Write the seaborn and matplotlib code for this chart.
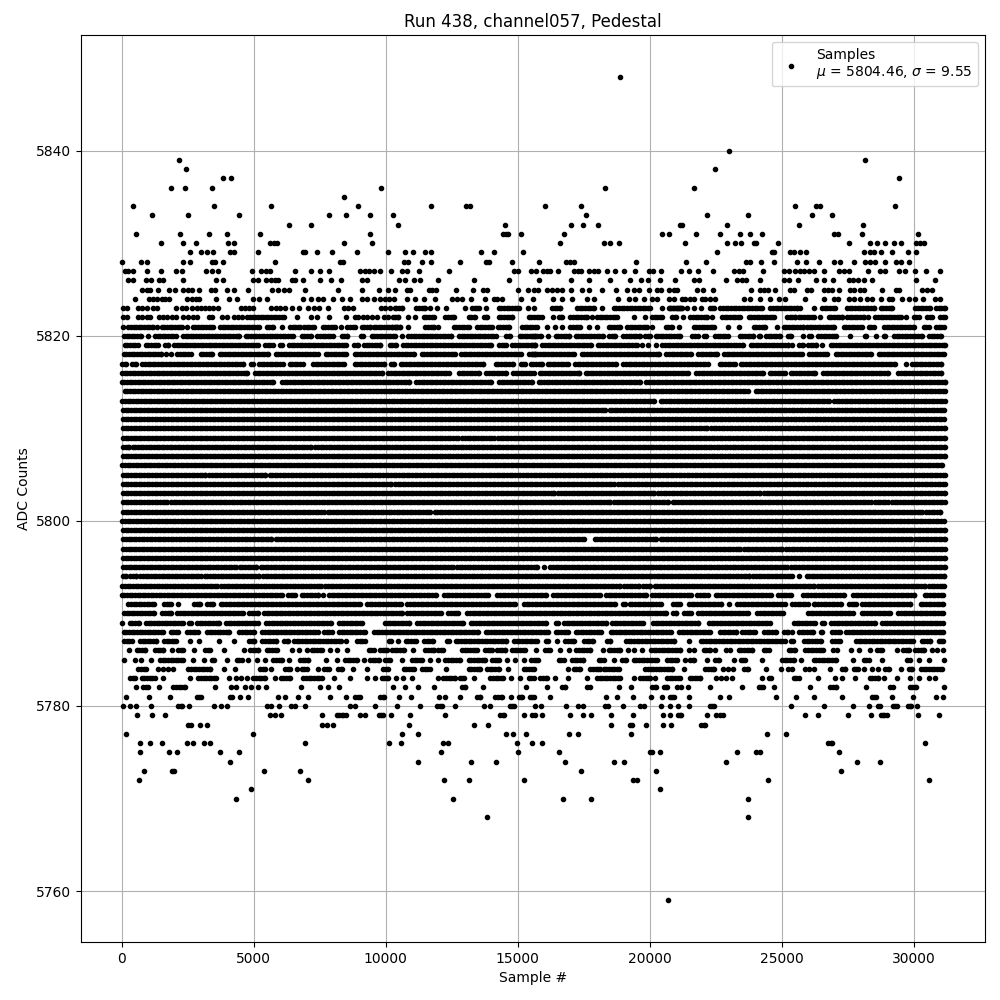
import numpy as np
import pandas as pd
import matplotlib
matplotlib.use('Agg')
import matplotlib.pyplot as plt
import seaborn as sns

# values, one list per ADC level
# a plain number is one dot, a tuple (a, b) is a stretch of touching dots

row_5848 = [18880]
row_5840 = [22990]
row_5839 = [2190, 28150]
row_5838 = [2450, 22460]
row_5837 = [3850, 4160, 29430]
row_5836 = [1850, 2410, 3440, 9840, 18300, 21670]
row_5835 = [8440]
row_5834 = [440, 3510, 5670, 8970, 11700, 13030, 13180, 16020, 17390, 25490, 26300, 26440, 29280]
row_5833 = [1160, 2530, 4460, 7870, 8510, 9420, 10290, 17580, 22160, 23710, 26140, 26900]
row_5832 = [6320, 7190, 10450, 14510, 17010, 17460, 18030, 21160, 21210, 22910, 25640, 28070]
row_5831 = [560, 2220, 3320, 4000, 5250, 9420, 14440, 14550, 14620, 15110, 16740, 20460, 20720, 21740,
            22650, 23410, 23790, 24240, 26970, 27120, 28030, 30150]
row_5830 = [1500, 2340, 2830, 4040, 4270, 5620, 5770, 5870, 8440, 9500, 16590, 18260, 18490, 18830, 21330,
            22910, 23220, 23450, 23940, 24040, 24850, 27540, 28330, 28600, 28900, 29240, 29510, 30080, 30230, 30380]
row_5829 = [2600, 3020, 3220, 3470, 4120, 4260, 5180, 6880, 6960, 7410, 7980, 8930, 10100, 10720, 11020, 11480,
            11700, 13600, 14090, 15190, 22540, 24630, 24720, 25330, 25480, 25680, 25910, 28110, 28330, 28490,
            28750, 29170, 29770, 30080]
row_5828 = [30, 750, 970, 2340, 2600, 3440, 3550, 3850, 5820, 8270, 8400, 10680, 10830, 11360, 11700, 12800,
            13790, 13900, 14770, 15800, 16820, 16970, 17150, 19470, 21360, 22120, 23640, 23790, 24200, 24700,
            25570, 25910, 26400, 26970, 27200, 27730, 28150, 28360, 28550, 28900, 29320, 29510, 29810]
row_5827 = [140, 250, 440, 970, 1500, 2070, 2300, 3210, 3440, 3660, 4950, 5290, 5460, 5610, 6580, 7190, 7530,
            7870, 9040, 9200, 9380, 9570, 9800, 10220, 10620, 10810, 11250, 12390, 14850, 15000, 15490, 15680,
            15950, 16110, 16240, 16520, 17120, 17270, 17400, 17690, 17880, 18030, 18370, 18680, 19020, 19430,
            19960, 20120, 20420, 21170, 21480, 21820, 22390, 23180, 23370, 23520, 24280, 25080, 25270, 25490,
            25710, 25830, 26020, 26210, 26590, 27160, 27350, 27540, 28260, 28740, 28930, 29430, 29660, 30040,
            30460, 30990]
row_5826 = [250, 440, 940, 1120, 1430, 1580, 2340, 3590, 3850, 4990, 5180, 5480, 5650, 5810, 5940, 6440, 6580,
            6880, 7530, 7940, 8320, 9120, 9310, 10520, 10720, 11060, 11290, 11970, 13330, 14660, 15800, 17010,
            17690, 18490, 19240, 19660, 19930, 20380, 20950, 21670, 21860, 22880, 23310, 23500, 23660, 24170,
            25080, 25270, 25610, 26280, 26590, 26950, 27540, 27700, 27880, 28110, 28410, 30080, 30800]
row_5825 = [780, 950, 1070, 1390, 1810, 2030, 2340, 2530, 2650, 2940, 3400, 3550, 4000, 4260, 4800, 5710, 5940,
            6130, 6350, 6960, 8210, 9120, 9760, 10100, 10370, 10810, 10930, 11630, 11750, 11890, 12650, 13300,
            13670, 13840, 15000, 15380, 15610, 15760, 16110, 16300, 16490, 16680, 17030, 17440, 17690, 18180,
            18710, 19140, 19400, 19590, 19960, 20280, 20430, 20720, 20910, 21040, 21790, 22010, 22390, 23850,
            24170, 24320, 24480, 24760, 25300, 25480, 25960, 26110, 26590, 26740, 26910, 27160, 27600, 27730,
            27960, 28130, 28790, 29330, 29430, 30320, 30510, 30700]
row_5824 = [520, 1050, 1200, 1350, 1520, 1640, 1810, 2490, 2650, 2820, 2940, 3590, 4080, 4350, 4990, 5220, 5520,
            6880, 7190, 7450, 7640, 8020, 8360, 8630, 9120, 9310, 9540, 9790, 9980, 10140, 10330, 10810, 11120,
            11440, 11860, 12510, 12700, 12890, 13220, 13750, 14090, 14220, 14410, 15110, 15580, 16330, 16670,
            17050, 17630, 17880, 18790, 19200, 19460, 19770, 20090, 20280, 20720, 20910, 21240, 21350, 21510,
            21670, 21980, 22110, 22300, 22490, 23590, 23810, 24170, 24570, 24890, 25140, 25900, 26620, 26970,
            27120, 27540, 27730, 27980, 28230, 28420, 28750, 29050, 29180, 29560, 29810, 30060, 30340, 30820,
            30990]
row_5823 = [40, 220, 630, 780, 970, 1200, 1350, 2070, 2300, 2440, 2680, 2840, 2990, 3160, 3320, 3470, 3660, 4510,
            4670, 4840, 4990, 5670, 5840, 6000, 6190, 6440, 6730, 7040, 7300, 7490, 7820, 8440, 8590, 8780, 9840,
            9990, 10170, 10360, (10400, 10620), (11160, 11500), 11670, 11960, 12270, 13020, (13270, 13520), 13790,
            (14280, 15040), 15380, 15610, (16300, 16620), (17250, 17880), 18180, (18640, 20030), 20470, (20720, 21160),
            (20780, 21220), 21410, 21690, 21940, (22270, 22420), (22680, 24250), (24570, 25580), 25710, 26210,
            (26530, 27030), (27480, 28490), (28750, 29180), (30060, 30600), (30850, 31180)]
row_5822 = [40, 220, 630, 780, 950, 1070, 1430, 1580, 1730, 1900, 2060, 2340, 2530, 2720, 2870, 3320, 3420, 3810,
            4000, 4260, 4420, 4550, (4760, 6130), 6660, 7160, 7410, 7870, 8480, 8820, 8970, 9130, 9310, 9500, 9660,
            9950, 10100, 10290, (10360, 10480), 10830, 11120, (11440, 11820), (12260, 12580), (13140, 13400),
            (13710, 13840), (14280, 14790), (15420, 15920), 16340, (16550, 16680), (17000, 17630), 17820, (18000, 18760),
            19400, 19840, (20090, 20470), (20850, 20980), 21280, (21540, 22170), 22360, (22740, 23430), (23750, 24700),
            (25200, 25520), (25640, 26210), 26440, (26780, 27290), (27470, 28110), 28260, (28550, 29500), 29690,
            (30000, 30190), (30500, 30700), (31010, 31180)]
row_5821 = [40, (250, 1200), 1330, (1520, 2270), 2490, (2690, 3470), (3730, 5120), 5220, (5490, 5750), 6090,
            (6380, 6760), (6910, 7290), (7620, 8080), 8300, (8550, 8840), (9090, 9410), (9540, 10420), (10240, 10550),
            10830, (11500, 11820), 11970, (12580, 13140), (13460, 14030), (14240, 14660), (15160, 15730), 16110, 16430,
            16680, (17000, 17370), 17690, 18000, (18450, 18890), (19140, 19900), 20090, (20600, 20850), 21100,
            (21670, 22050), (22170, 22420), 22950, 23400, (23940, 24380), 24820, (25080, 25460), (25590, 25800),
            (25960, 26970), (27350, 28040), (28300, 28490), (28870, 30000), (30380, 30570), (30850, 31150)]
row_5820 = [(85, 730), 1000, (1260, 2060), (2320, 4460), (4700, 6480), (6820, 7180), (7410, 7990), (8330, 8540),
            (9050, 9130), (9470, 10360), 10600, (10860, 12480), (12780, 14180), (14570, 14690), (15070, 15660),
            (15550, 15890), 16150, (16440, 16960), (17190, 18220), (18460, 18680), (19000, 19620), (19840, 20000),
            (20220, 21130), (21620, 21820), (22060, 22150), (22470, 22960), (23410, 23930), (24140, 24180),
            (24400, 24920), (25220, 25360), 25790, (26040, 26120), (26390, 27060), 27590, (28160, 28200), 28570,
            (28880, 28920), (29260, 30310), (30580, 31050)]
row_5819 = [(120, 610), (910, 1390), (1640, 1750), (1990, 5150), (5430, 5720), (6000, 6070), (6340, 8500), (8800, 8950),
            (9180, 9800), (10150, 10400), (10660, 14000), (14290, 14570), (14800, 15660), (15550, 15640), (15930, 17760),
            (18030, 19530), 19700, 19950, 20220, (20480, 23530), (23820, 25240), 25380, (25660, 25790), (26000, 26310),
            26520, (26860, 31180)]
row_5818 = [(80, 1500), 1680, 1860, (2110, 2610), (2990, 3410), (3710, 5540), (5830, 7430), (7730, 8500), (8820, 11090),
            (11360, 12610), (12850, 15130), (15430, 15660), (15550, 17150), (17430, 20370), (20630, 21570), (21830, 22560),
            (22810, 25750), (26050, 26710), (27040, 28400), (28670, 31150)]
row_5817 = [(30, 160), (400, 550), (780, 4590), (4890, 4970), (5200, 6100), (6360, 6860), (7250, 8440), (8820, 9950),
            (10190, 10310), (10570, 13680), (14170, 14820), (15120, 15260), (15490, 15910), (16130, 16900), (17170, 18710),
            (19000, 22200), (22650, 23230), (23450, 29280), 29710, (29930, 31050)]
row_5816 = [(20, 4750), (5050, 9860), (10100, 12380), (12780, 13520), (13810, 14570), (14820, 15610), (15830, 17340),
            (17570, 21450), (21770, 24290), (24550, 25110), (25340, 26260), (26570, 29040), (29420, 31050)]
row_5815 = [(0, 5720), (6080, 10900), (11160, 14000), (14290, 15550), (15800, 19620), (19870, 31180)]
row_5814 = [(120, 23720), (24010, 31180)]
row_5813 = [(30, 20180), (20420, 26790), (26980, 31180)]
row_5812 = [(50, 18320), (18480, 31130)]
row_5811 = [(50, 31150)]
row_5810 = [(50, 22170), (22330, 31180)]
row_5809 = [(50, 12740), (12900, 14100), (14250, 31180)]
row_5808 = [(50, 260), (420, 7180), (7340, 31180)]
row_5807 = [(50, 31180)]
row_5806 = [(30, 31060)]
row_5805 = [(50, 3165), (3325, 5440), (5600, 31180)]
row_5804 = [(50, 10190), (10350, 18650), (18810, 31180)]
row_5803 = [(50, 16380), (16540, 20170), (20330, 24170), (24330, 31180)]
row_5802 = [(50, 1710), (1870, 18490), (18650, 20710), (20870, 28370), (28530, 29020), (29180, 31180)]
row_5801 = [(50, 7650), (7810, 11690), (11850, 30320), (30480, 31000)]
row_5800 = [(30, 31130)]
row_5799 = [(50, 31180)]
row_5798 = [(60, 5670), (5830, 17500), (17910, 20250), (20410, 29890), (30050, 31180)]
row_5797 = [(60, 23420), (23580, 25020), (25180, 31180)]
row_5796 = [(50, 31180)]
row_5795 = [(60, 4315), (4475, 5100), (5260, 12540), (12700, 15720), 15980, (16240, 25190), (25350, 31180)]
row_5794 = [(40, 170), (330, 550), (710, 2990), (3150, 5200), (5360, 23770), (23930, 25380), 25660, (25940, 31150)]
row_5793 = [(30, 3620), (3780, 7560), (7720, 18880), (19040, 19600), (19760, 20030), (20190, 26220), (26380, 30420),
            (30580, 31150)]
row_5792 = [(0, 6065), (6300, 6580), (6820, 7455), 7640, (7850, 11910), (12210, 13870), (14230, 16080), (16340, 18100),
            (18340, 19870), (20100, 21570), (21800, 22200), (22500, 24600), (24870, 25360), (25810, 27350), (27700, 30010),
            (30420, 31100)]
row_5791 = [(250, 1240), (1600, 1870), 2150, (2740, 2950), (3240, 3450), (3750, 9010), (9300, 10590), (10820, 14880),
            (15240, 18670), (19000, 19070), (19240, 20440), (20880, 21130), (21490, 22710), 23010, (23320, 25110),
            (25400, 26000), (26220, 26270), (26390, 27250), (27550, 27830), (28050, 29860), (30270, 31100)]
row_5790 = [(85, 1240), (1540, 1870), (2110, 4590), (4820, 5150), (5390, 10610), (10820, 12100), (12370, 12730),
            (13090, 20620), (20880, 21010), (21300, 21570), (21830, 23720), (24080, 25060), (26000, 27700), (28030, 29090),
            (29420, 31100)]
row_5789 = [25, (300, 670), (930, 2310), (2550, 2630), (2860, 3700), (3960, 5160), (5480, 7930), (8230, 9100), (9970, 10900),
            (11200, 12920), (13220, 16080), (16460, 16530), (16750, 18360), (18580, 19750), (20120, 21840), (22250, 24540),
            (25470, 26270), (26540, 26620), (26880, 28540), (28800, 31100)]
row_5788 = [(80, 1560), (1850, 2120), (2490, 2880), (3240, 4080), (4460, 5010), (5330, 7430), (7660, 7960), (8230, 9200),
            (9560, 13490), (13790, 16140), (16440, 16900), (17190, 18160), (18520, 20810), (21110, 22270), (22660, 23280),
            (23510, 23980), (24330, 24790), (25090, 25240), 25380, (25660, 26180), (26480, 26540), (26920, 27190), (27450, 31100)]
row_5787 = [(85, 380), (690, 1300), (1600, 2060), 2590, 2940, 3700, 4270, (4820, 5030), (5330, 5850), (6150, 6290), (6530, 8310),
            8490, (8920, 9200), (10120, 10210), 10480, (10760, 11160), (11450, 11790), (12320, 12400), (12650, 14570), (14860, 15660),
            15720, (16060, 16140), 16500, (16810, 17150), (17510, 17850), (18390, 18500), (19110, 20930), 21470, (21930, 25110),
            (25340, 25440), (25850, 26490), (26920, 27190), (27810, 29970), (30300, 30620), (30940, 31100)]
row_5786 = [290, (570, 880), (1260, 1580), 1920, (2150, 2340), 2750, (3160, 3350), 3890, 4650, (4860, 5180), (5490, 5870), 6470,
            6730, 7010, (7200, 7580), 7910, 8170, 8550, (9350, 9540), (9790, 10040), (10240, 10680), 11020, (11500, 11820),
            (12000, 12190), (12890, 13460), (13770, 14030), (14220, 14530), (14790, 15290), 15710, (16050, 16240), 16590, 16930,
            (17220, 17750), 18220, (18450, 18890), 19170, 19400, 19700, (20050, 21160), 21480, 21690, (22050, 22270), 22460, 22880,
            23060, (23370, 23880), (24320, 24510), (25270, 25520), (25900, 26570), 26950, 27100, 27610, 27920, 28330, (28610, 28800),
            29370, (29600, 29810), (30060, 30380), 30700, 30890, 31100]
row_5785 = [100, 520, 750, 1110, (1450, 2340), 2720, 3130, (3410, 3500), 4000, (4360, 4550), 4800, 5120, 5440, (5750, 6060), 6320,
            (6760, 7070), 7750, 8170, (8460, 8900), 9190, (9410, 9730), (9980, 10170), 10600, (11000, 11380), 11670, 11970, (12260, 12830),
            (13140, 13780), (14030, 14280), 14580, 14890, 15230, (15510, 15760), (16550, 16740), (17060, 17480), (18070, 18260), 18640,
            (18950, 19120), (19400, 20280), (20660, 21040), 21350, (21540, 21670), 22170, (22490, 22610), 23180, (23440, 23620), 24240,
            (25010, 25460), 25720, (26210, 27060), 27690, (28110, 28300), 28790, (29750, 29850), 30190, 30570, 31140]
row_5784 = [(630, 920), 1390, 1580, 1770, 1960, (2530, 3350), 3890, 4310, (5240, 5430), 5670, (6190, 6380), 6630, (6820, 7010), 7450,
            (7680, 7870), (8210, 8340), 8780, 9310, (9910, 10100), (10680, 11060), (11380, 11670), 12270, (13140, 13580), (13840, 14280),
            14620, (15230, 15610), 16890, (17120, 17370), (17750, 18130), (18260, 18830), (19840, 20850), 21290, (22110, 22420), 22760,
            22950, 23140, (23590, 23710), 24390, 24960, 25230, 25380, 25870, 26030, 26230, 26820, (27290, 27410), (27730, 27880), 28110,
            28410, 28640, (28930, 29050), 29510, (29810, 29940), (30280, 31080)]
row_5783 = [(320, 510), (760, 1260), 1580, 2600, (2900, 3570), 4080, 4330, 4520, 4760, (4990, 5430), 5810, (6020, 6380), (6880, 7580),
            8060, 8630, 9310, 9610, (9850, 10070), 10380, 10640, 10990, 11970, (12190, 12640), (12800, 12950), 13340, (13960, 14440), 14730,
            15070, (15420, 15610), (15860, 16110), 16410, 16890, 17610, (18000, 18890), 19400, (19650, 20030), 20190, (20660, 21160),
            (21510, 21920), 22500, 22700, 22900, 23110, 24240, (24510, 24610), (25450, 25640), 26360, 27010, 27270, 27770, (28330, 28640),
            28860, 29370, 29850, 30190, 30570, 30800]
row_5782 = [560, (820, 1010), 1430, (1960, 2400), 3550, 4160, 4340, 4690, 4910, 5180, 5480, 6810, 7530, 7830, 8250, 10290, 10720, 11240,
            11820, (12890, 13020), 13670, 15300, 16100, (16680, 16810), (17630, 17730), 18830, 19280, (20090, 20220), (20530, 20660), 21040,
            21170, 21440, 22270, 23480, (24130, 24290), 24700, 26060, (26840, 27060), 28180, 29090, 29210, (29850, 30080), 31140]
row_5781 = [180, 1050, 1840, (2840, 2990), (4100, 4170), 4500, 4800, 5940, 6200, 6690, 7070, 7910, 8510, (8840, 9010), (9790, 9940), 10490,
            10960, 12010, 12230, 12800, (13460, 13580), (14150, 14410), 14730, (15040, 15160), (15450, 15610), 16210, 18330, 18750, 19360,
            20040, 20460, (20760, 20910), 21480, 22650, 22990, 24770, 25530, 26210, 27270, (28410, 28560), 29170, 29990, 30830, 31100]
row_5780 = [60, 330, 560, 1120, (2150, 2270), 2560, 3510, 3780, 4000, 5520, 5670, 5970, 6420, 6580, 6960, 8630, 8820, 9610, 10410, 11290,
            (11940, 12130), 12610, 13710, 13940, (14700, 14870), 15640, 15870, 16820, 17270, 17480, (18320, 18410), 18980, 19620, 19770, 20420,
            20760, 21060, 21480, (22270, 22420), 25340, 26590, 27690, 28300, (28640, 28740), (29210, 29370), (29770, 29900), 30110]
row_5779 = [590, 1160, 1650, 5620, 5820, 6050, 7570, (8150, 8400), 8510, 9040, 9230, (9730, 9910), 10210, 10910, 12260, (14340, 14470), 15230,
            (15540, 15640), 15910, 16970, 17460, 17770, 18520, 19360, 20490, 20760, (21060, 21190), 22160, 22500, 22650, 22780, 25870, 26360,
            27500, 28370, (28750, 28860), 28980, 30150, 30950]
row_5778 = [2530, 2630, 2980, 3250, 7600, 7790, 8020, 10870, 13330, 13860, 18520, 19240, 19320, 19850, 20490, 20800, (21960, 22110)]
row_5777 = [180, 4990, 10600, 11210, 14550, 14810, 15300, 16930, 17270, 19280, 24430, 25150]
row_5776 = [710, 1090, 1540, 2490, 2720, 3130, 3360, 6960, 10140, 10570, 12160, 12350, 14960, 15530, 15910, (26770, 26920), 30420]
row_5775 = [710, 1810, 2110, 3740, 4460, 12080, 15000, 16550, 20000, 20080, 20380, 23290, 24010, 24160, 27160]
row_5774 = [4120, 11210, 13220, 14170, 16780, 18640, 19020, 22880, 27840, 28710]
row_5773 = [860, 1920, 2000, 5410, 6770, 17390, 20230, 27240]
row_5772 = [670, 7040, 12200, 13140, 15230, 19360, 19510, 24470, 30570]
row_5771 = [4880, 20380]
row_5770 = [4340, 12540, 16700, 17770, 23710]
row_5768 = [13830, 23710]
row_5759 = [20695]

adc_rows = {
    5848: row_5848, 5840: row_5840, 5839: row_5839, 5838: row_5838, 5837: row_5837, 5836: row_5836, 5835: row_5835,
    5834: row_5834, 5833: row_5833, 5832: row_5832, 5831: row_5831, 5830: row_5830, 5829: row_5829, 5828: row_5828,
    5827: row_5827, 5826: row_5826, 5825: row_5825, 5824: row_5824, 5823: row_5823, 5822: row_5822, 5821: row_5821,
    5820: row_5820, 5819: row_5819, 5818: row_5818, 5817: row_5817, 5816: row_5816, 5815: row_5815, 5814: row_5814,
    5813: row_5813, 5812: row_5812, 5811: row_5811, 5810: row_5810, 5809: row_5809, 5808: row_5808, 5807: row_5807,
    5806: row_5806, 5805: row_5805, 5804: row_5804, 5803: row_5803, 5802: row_5802, 5801: row_5801, 5800: row_5800,
    5799: row_5799, 5798: row_5798, 5797: row_5797, 5796: row_5796, 5795: row_5795, 5794: row_5794, 5793: row_5793,
    5792: row_5792, 5791: row_5791, 5790: row_5790, 5789: row_5789, 5788: row_5788, 5787: row_5787, 5786: row_5786,
    5785: row_5785, 5784: row_5784, 5783: row_5783, 5782: row_5782, 5781: row_5781, 5780: row_5780, 5779: row_5779,
    5778: row_5778, 5777: row_5777, 5776: row_5776, 5775: row_5775, 5774: row_5774, 5773: row_5773, 5772: row_5772,
    5771: row_5771, 5770: row_5770, 5768: row_5768, 5759: row_5759,
}

x_ticks = [0, 5000, 10000, 15000, 20000, 25000, 30000]
y_ticks = [5760, 5780, 5800, 5820, 5840]

samples = []
counts = []
for level, row in adc_rows.items():
    for item in row:
        if isinstance(item, tuple):
            # touching dots can't be told apart in the picture, so space them along the stretch
            stretch = list(np.arange(item[0], item[1], 100)) + [item[1]]
        else:
            stretch = [item]
        samples += stretch
        counts += [level] * len(stretch)

df = pd.DataFrame({'sample': samples, 'adc': counts})

fig, ax = plt.subplots(figsize=(10, 10), dpi=100)
sns.scatterplot(data=df, x='sample', y='adc', color='k', marker='.', s=36, edgecolor='k', linewidth=1,
                label='Samples\n$\\mu$ = 5804.46, $\\sigma$ = 9.55', zorder=3, ax=ax)

ax.set_xlim(-1540, 32700)
ax.set_ylim(5754.5, 5852.5)
ax.set_xticks(x_ticks)
ax.set_yticks(y_ticks)
ax.ticklabel_format(useOffset=False, style='plain')
ax.grid(True)
ax.set_xlabel('Sample #')
ax.set_ylabel('ADC Counts')
ax.set_title('Run 438, channel057, Pedestal')
ax.legend(loc='upper right')

fig.subplots_adjust(left=0.081, right=0.985, top=0.965, bottom=0.058)
fig.savefig('out.png', dpi=100)
